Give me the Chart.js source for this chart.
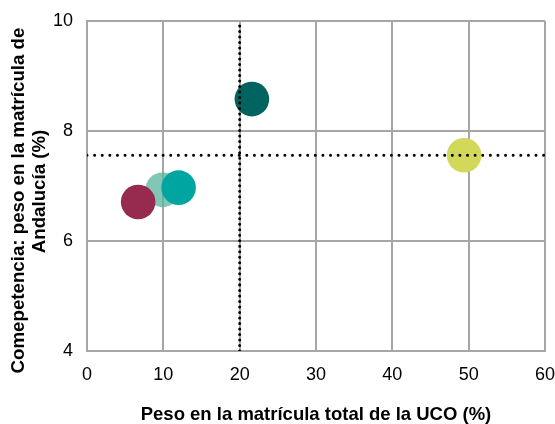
<!DOCTYPE html>
<html>
<head>
<meta charset="utf-8">
<script src="https://cdn.jsdelivr.net/npm/chart.js@4"></script>
<style>
html,body{margin:0;padding:0;background:#fff;}
#wrap{width:555px;height:424px;}
</style>
</head>
<body>
<div id="wrap"><canvas id="c" width="555" height="424"></canvas></div>
<script>
const pesoUCO = [9.9, 6.7, 12.0, 21.6, 49.4];
const pesoAndalucia = [6.93, 6.71, 6.97, 8.58, 7.56];
const bubbleColors = ['rgba(85,180,156,0.75)', '#962B4F', '#00A5A2', '#00635F', '#D1D85A'];
const refX = 20;
const refY = 7.56;
const xTicks = [0, 10, 20, 30, 40, 50, 60];
const yTicks = [4, 6, 8, 10];
const xTitle = 'Peso en la matrícula total de la UCO (%)';
const yTitle = ['Comepetencia: peso en la matrícula de', 'Andalucía (%)'];

const FONT = "'Liberation Sans', Arial, sans-serif";
const bubbles = pesoUCO.map((x, i) => ({x: x, y: pesoAndalucia[i], r: 17.3}));

const dotted = {
  type: 'line', showLine: true, pointRadius: 0, borderColor: '#000',
  borderWidth: 3, borderCapStyle: 'round', fill: false
};

const yTitlePlugin = {
  id: 'yTitle',
  afterDraw(chart) {
    const ctx = chart.ctx;
    ctx.save();
    ctx.font = "bold 18.7px 'Liberation Sans', Arial, sans-serif";
    ctx.fillStyle = '#000';
    ctx.textAlign = 'center';
    ctx.textBaseline = 'middle';
    const pos = [[18.5, 200.5], [40, 191.5]];
    yTitle.forEach((t, i) => {
      ctx.save();
      ctx.translate(pos[i][0], pos[i][1]);
      ctx.rotate(-Math.PI / 2);
      ctx.fillText(t, 0, 0);
      ctx.restore();
    });
    ctx.restore();
  }
};

const zeroPad = s => { s.paddingTop = 0; s.paddingBottom = 0; s.paddingLeft = 0; s.paddingRight = 0; };

new Chart(document.getElementById('c'), {
  type: 'bubble',
  data: {
    datasets: [
      Object.assign({}, dotted, {borderDash: [0.01, 5.5], data: [{x: refX, y: yTicks[0]}, {x: refX, y: yTicks[yTicks.length-1]}], order: 0}),
      Object.assign({}, dotted, {borderDash: [0.01, 7.6], data: [{x: xTicks[0], y: refY}, {x: xTicks[xTicks.length-1], y: refY}], order: 0}),
      {data: bubbles, backgroundColor: bubbleColors, borderWidth: 0, hoverBorderWidth: 0, order: 1, clip: false}
    ]
  },
  plugins: [yTitlePlugin],
  options: {
    responsive: false, animation: false,
    layout: {autoPadding: false, padding: {top: 21, right: 10, left: 0, bottom: 0}},
    plugins: {legend: {display: false}, tooltip: {enabled: false}},
    scales: {
      x: {
        type: 'linear', min: xTicks[0], max: xTicks[xTicks.length-1],
        afterBuildTicks: s => { s.ticks = xTicks.map(v => ({value: v})); },
        afterFit: s => { s.height = 73; zeroPad(s); },
        grid: {color: '#A6A6A6', lineWidth: 2, drawTicks: false},
        border: {color: '#A6A6A6', width: 2},
        ticks: {color: '#000', font: {family: FONT, size: 18}, padding: 13},
        title: {display: true, text: xTitle, color: '#000', font: {family: FONT, size: 18.5, weight: 'bold', lineHeight: 1.0}, padding: {top: 22, bottom: 0}}
      },
      y: {
        type: 'linear', min: yTicks[0], max: yTicks[yTicks.length-1],
        afterBuildTicks: s => { s.ticks = yTicks.map(v => ({value: v})); },
        afterFit: s => { s.width = 87; zeroPad(s); },
        grid: {color: '#A6A6A6', lineWidth: 2, drawTicks: false},
        border: {color: '#A6A6A6', width: 2},
        ticks: {color: '#000', font: {family: FONT, size: 18}, padding: 14},
        title: {display: false}
      }
    }
  }
});
</script>
</body>
</html>
